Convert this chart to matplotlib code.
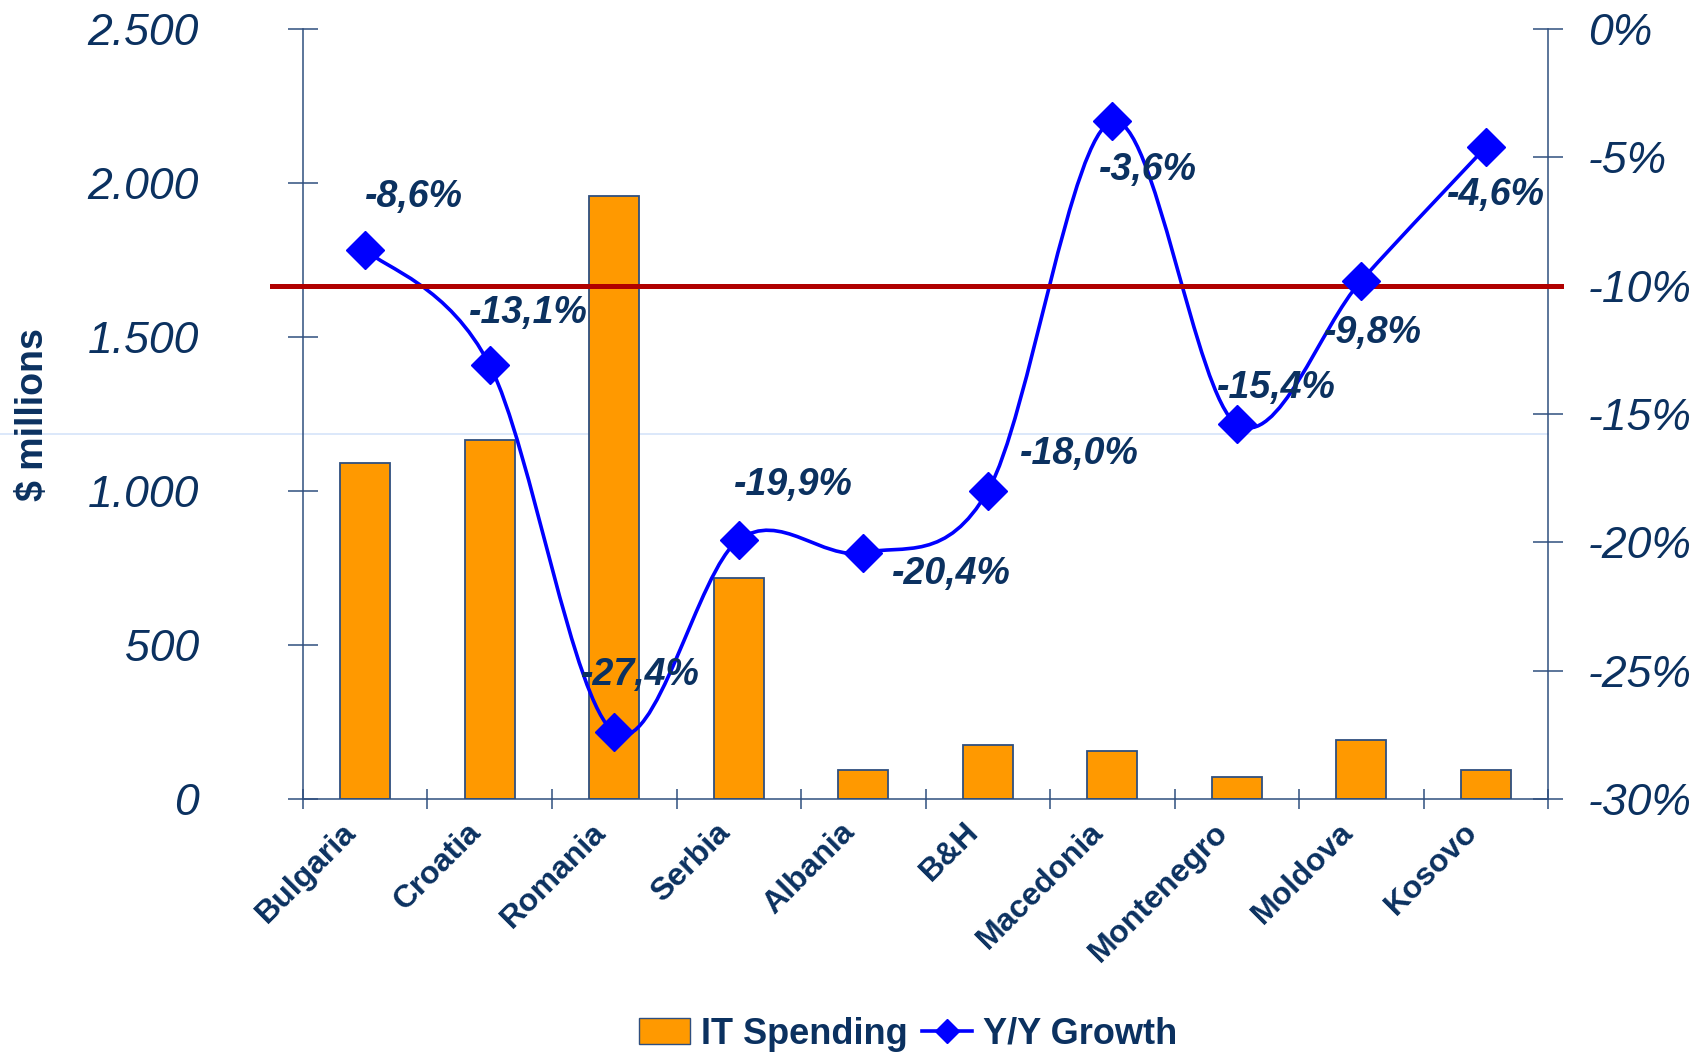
import matplotlib
matplotlib.use("Agg")
import matplotlib.pyplot as plt
from matplotlib.path import Path
from matplotlib.patches import PathPatch, Patch
from matplotlib.lines import Line2D

plt.rcParams['font.family'] = ['Liberation Sans', 'DejaVu Sans']

countries = ["Bulgaria", "Croatia", "Romania", "Serbia", "Albania",
             "B&H", "Macedonia", "Montenegro", "Moldova", "Kosovo"]
it_spending = [1090, 1167, 1957, 719, 95, 176, 155, 70, 190, 95]
yy_growth = [-8.6, -13.1, -27.4, -19.9, -20.4, -18.0, -3.6, -15.4, -9.8, -4.6]
threshold = -10.0

left_ticks = [0, 500, 1000, 1500, 2000, 2500]
left_labels = ["0", "500", "1.000", "1.500", "2.000", "2.500"]
right_ticks = [-30, -25, -20, -15, -10, -5, 0]
right_labels = ["-30%", "-25%", "-20%", "-15%", "-10%", "-5%", "0%"]

# label offsets (pixels) relative to each marker
label_offsets = [(49, 53), (39, 52), (26, 57), (55, 55), (88, -21),
                 (92, 37), (36, -49), (40, 36), (12, -52), (10, -48)]

navy = "#0b3160"
axis_col = "#2f4f7f"
orange = "#ff9900"
blue = "#0000ff"
red = "#b00000"

fig = plt.figure(figsize=(17.04, 10.52), dpi=100)
ax = fig.add_axes([0.1778, 0.2405, 0.7307, 0.7319])
ax2 = ax.twinx()

x = list(range(len(countries)))
ax.bar(x, it_spending, width=0.4, color=orange, edgecolor=axis_col, linewidth=1.3, zorder=2)
ax.set_xlim(-0.5, len(countries) - 0.5)
ax.set_ylim(0, 2500)
ax2.set_ylim(-30, 0)

# faint stray gridline seen in the original (behind the bars)
ax.plot([-303 / 1245, 1.0], [0.474, 0.474], transform=ax.transAxes, color="#d6e4fa",
        lw=1.2, clip_on=False, zorder=1)

# smoothed line (Catmull-Rom style bezier, like Excel's smooth line)
n = len(yy_growth)
verts = [(x[0], yy_growth[0])]
codes = [Path.MOVETO]
for i in range(n - 1):
    p0 = (x[i - 1], yy_growth[i - 1]) if i > 0 else (x[i], yy_growth[i])
    p1 = (x[i], yy_growth[i])
    p2 = (x[i + 1], yy_growth[i + 1])
    p3 = (x[i + 2], yy_growth[i + 2]) if i + 2 < n else p2
    c1 = (p1[0] + (p2[0] - p0[0]) / 6, p1[1] + (p2[1] - p0[1]) / 6)
    c2 = (p2[0] - (p3[0] - p1[0]) / 6, p2[1] - (p3[1] - p1[1]) / 6)
    verts += [c1, c2, p2]
    codes += [Path.CURVE4] * 3
ax2.add_patch(PathPatch(Path(verts, codes), facecolor="none", edgecolor=blue, lw=2.6, zorder=3))
ax2.plot(x, yy_growth, linestyle="none", marker="D", ms=19, color=blue, zorder=4)

ax2.plot([-0.75, 9.6], [threshold, threshold], color=red, lw=3.6, clip_on=False, zorder=3)

for xi, v, off in zip(x, yy_growth, label_offsets):
    ax2.annotate(f"{v:.1f}%".replace(".", ","), (xi, v), xytext=off, textcoords="offset pixels",
                 ha="center", va="center", fontsize=27, fontweight="bold", fontstyle="italic",
                 color=navy, zorder=5)

# axes styling
for a in (ax, ax2):
    a.spines["top"].set_visible(False)
    for s in ("left", "right", "bottom"):
        a.spines[s].set_color(axis_col)
        a.spines[s].set_linewidth(1.1)
ax.spines["right"].set_visible(False)
ax2.spines["left"].set_visible(False)
ax2.spines["bottom"].set_visible(False)

ax.set_yticks(left_ticks)
ax.set_yticklabels(left_labels)
ax.tick_params(axis="y", direction="inout", length=21.6, width=1.1, color=axis_col,
               pad=64, labelsize=32, labelcolor=navy)
for t in ax.get_yticklabels():
    t.set_fontstyle("italic")

ax2.set_yticks(right_ticks)
ax2.set_yticklabels(right_labels)
ax2.tick_params(axis="y", direction="inout", length=21.6, width=1.1, color=axis_col,
                pad=18, labelsize=32, labelcolor=navy)
for t in ax2.get_yticklabels():
    t.set_fontstyle("italic")

# category labels sit a little left of the bar centres (hidden major ticks)
ax.set_xticks([i - 0.19 for i in x])
ax.set_xticklabels(countries, rotation=45, ha="right", va="top", rotation_mode="anchor",
                   fontsize=23, fontweight="bold", color=navy)
ax.set_xticks([i - 0.5 for i in range(len(countries) + 1)], minor=True)
ax.tick_params(axis="x", which="major", length=0, pad=13)
ax.tick_params(axis="x", which="minor", direction="inout", length=14.4, width=1.1, color=axis_col)

fig.text(33 / 1704, 1 - 415 / 1052, "$ millions", rotation=90, ha="center", va="center",
         fontsize=27, fontweight="bold", color=navy)

handles = [Patch(facecolor=orange, edgecolor=axis_col, linewidth=1.0),
           Line2D([], [], color=blue, lw=2.6, marker="D", ms=12)]
leg = fig.legend(handles, ["IT Spending", "Y/Y Growth"], loc="center", bbox_to_anchor=(0.533, 0.017),
                 ncol=2, frameon=False, handlelength=1.4, handletextpad=0.3, columnspacing=0.4,
                 prop={"size": 26, "weight": "bold"})
for t in leg.get_texts():
    t.set_color(navy)

fig.savefig("out.png", dpi=100)
